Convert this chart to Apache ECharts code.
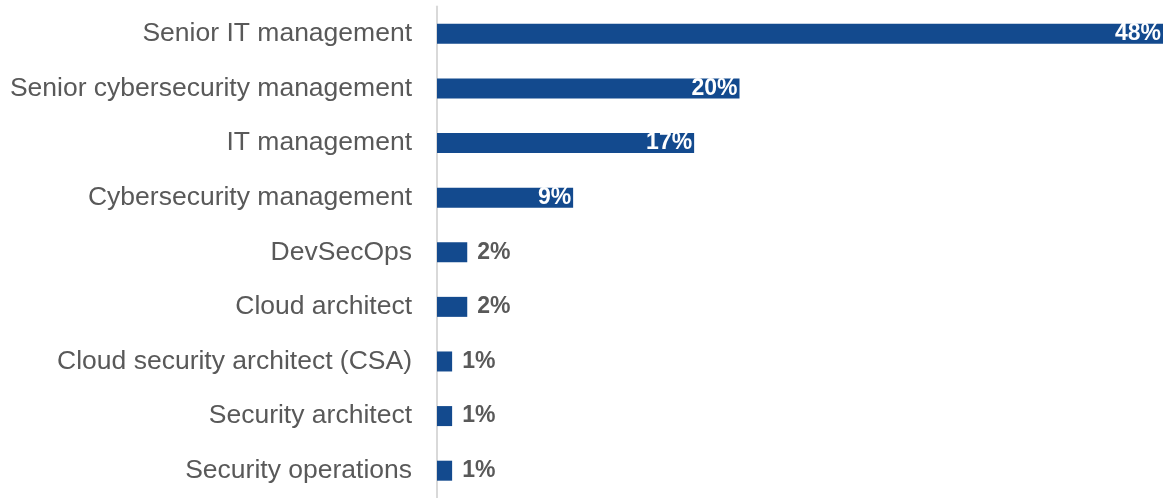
<!DOCTYPE html>
<html>
<head>
<meta charset="utf-8">
<style>
  html, body { margin: 0; padding: 0; background: #ffffff; }
  #chart { width: 1173px; height: 498px; }
</style>
<script src="https://cdn.jsdelivr.net/npm/echarts@6/dist/echarts.min.js"></script>
</head>
<body>
<div id="chart"></div>
<script>
// Roles, listed top to bottom
const roles = [
  'Senior IT management',
  'Senior cybersecurity management',
  'IT management',
  'Cybersecurity management',
  'DevSecOps',
  'Cloud architect',
  'Cloud security architect (CSA)',
  'Security architect',
  'Security operations'
];
// Share of respondents, percent
const shares = [48, 20, 17, 9, 2, 2, 1, 1, 1];

// Values at or above this are labelled inside the bar
const insideThreshold = 5;

const barColor = '#134a8e';
const textGray = '#595959';

const chart = echarts.init(document.getElementById('chart'), null, { renderer: 'canvas' });

const seriesData = shares.map(v => ({
  value: v,
  label: v >= insideThreshold
    ? { position: 'insideRight', distance: 2, color: '#ffffff' }
    : { position: 'right', distance: 10, color: textGray }
}));

chart.setOption({
  animation: false,
  backgroundColor: '#ffffff',
  grid: { left: 437, top: 6.5, width: 726, height: 496, containLabel: false },
  xAxis: {
    type: 'value',
    min: 0,
    max: 48,
    show: false
  },
  yAxis: {
    type: 'category',
    data: roles,
    inverse: true,
    axisLine: { show: true, lineStyle: { color: '#d9d9d9', width: 2 } },
    axisTick: { show: false },
    axisLabel: {
      color: textGray,
      fontFamily: 'Liberation Sans, Arial, sans-serif',
      fontSize: 26.5,
      margin: 25,
      padding: [3, 0, 0, 0]
    },
    splitLine: { show: false }
  },
  series: [{
    type: 'bar',
    data: seriesData,
    barWidth: 20,
    itemStyle: { color: barColor },
    label: {
      show: true,
      formatter: p => p.value + '%',
      fontFamily: 'Liberation Sans, Arial, sans-serif',
      fontWeight: 'bold',
      fontSize: 23,
      padding: [2, 0, 0, 0]
    }
  }]
});
</script>
</body>
</html>
